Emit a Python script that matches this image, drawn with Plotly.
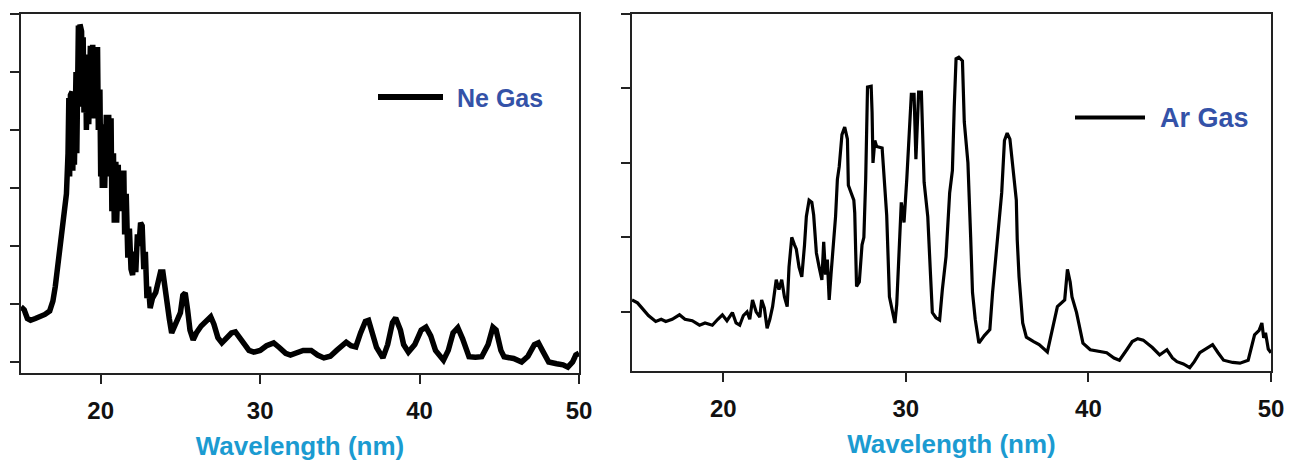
import plotly.graph_objects as go

# ---------------- Data ----------------
ne_wavelength = [
    15.0, 15.2, 15.4, 15.6, 15.9, 16.2, 16.5, 16.8, 17.0, 17.15, 17.3, 17.45, 17.6, 17.75, 17.85,
    17.95, 18.0, 18.05, 18.1, 18.2, 18.25, 18.3, 18.35, 18.45, 18.5, 18.6, 18.65, 18.7, 18.8, 18.85,
    18.9, 18.95, 19.05, 19.1, 19.2, 19.25, 19.35, 19.4, 19.5, 19.55, 19.65, 19.7, 19.8, 19.85, 19.95,
    20.0, 20.05, 20.1, 20.2, 20.25, 20.35, 20.4, 20.5, 20.55, 20.65, 20.7, 20.8, 20.85, 20.95, 21.0,
    21.1, 21.15, 21.25, 21.3, 21.45, 21.5, 21.6, 21.7, 21.8, 21.9, 22.0, 22.1, 22.2, 22.3, 22.4,
    22.5, 22.6, 22.7, 22.8, 22.9, 23.0, 23.1, 23.25, 23.45, 23.6, 23.75, 23.9, 24.0, 24.15, 24.3,
    24.45, 24.6, 24.8, 25.0, 25.15, 25.3, 25.45, 25.6, 25.8, 26.0, 26.3, 26.6, 26.9, 27.1, 27.35,
    27.6, 27.9, 28.2, 28.45, 28.7, 29.0, 29.3, 29.6, 30.0, 30.4, 30.85, 31.2, 31.6, 31.9, 32.3,
    32.7, 33.2, 33.6, 34.0, 34.4, 34.8, 35.1, 35.4, 35.7, 36.0, 36.3, 36.6, 36.8, 37.0, 37.3,
    37.7, 38.0, 38.3, 38.5, 38.8, 39.0, 39.3, 39.7, 40.1, 40.4, 40.7, 41.0, 41.5, 41.8, 42.1,
    42.4, 42.7, 43.1, 43.5, 43.9, 44.3, 44.6, 44.8, 45.1, 45.3, 45.9, 46.4, 46.8, 47.2, 47.45,
    47.7, 48.1, 48.6, 49.0, 49.3, 49.6, 49.8, 50.0,
]
ne_intensity = [
    0.95, 0.9, 0.75, 0.72, 0.75, 0.78, 0.82, 0.88, 1.05, 1.3, 1.65, 1.98, 2.25, 2.55, 2.9,
    3.6, 4.55, 3.2, 4.6, 4.66, 3.3, 4.2, 3.4, 5.0, 3.6, 5.8, 4.5, 5.82, 5.7, 4.4,
    5.6, 4.3, 5.3, 4.0, 5.0, 4.1, 5.45, 4.2, 5.47, 4.3, 5.4, 4.2, 5.43, 4.0, 4.7,
    3.2, 4.1, 3.0, 4.0, 3.0, 4.26, 3.2, 4.26, 3.5, 4.2, 2.6, 3.6, 2.4, 3.45, 2.4,
    3.4, 2.6, 3.2, 2.8, 3.3, 2.2, 2.9, 1.8, 2.3, 1.6, 1.5, 1.9, 1.55, 2.2, 2.0,
    2.4, 2.35, 1.6, 1.9, 1.1, 1.3, 0.93, 1.1, 1.2, 1.4, 1.55, 1.55, 1.3, 1.0, 0.75,
    0.5, 0.6, 0.75, 0.85, 1.15, 1.19, 0.9, 0.55, 0.38, 0.5, 0.62, 0.7, 0.78, 0.65, 0.42,
    0.33, 0.4, 0.5, 0.52, 0.42, 0.3, 0.2, 0.17, 0.2, 0.28, 0.33, 0.25, 0.15, 0.12, 0.17,
    0.2, 0.2, 0.12, 0.07, 0.1, 0.2, 0.28, 0.34, 0.28, 0.26, 0.5, 0.7, 0.72, 0.55, 0.25,
    0.07, 0.3, 0.68, 0.76, 0.55, 0.3, 0.17, 0.3, 0.55, 0.6, 0.45, 0.2, 0.03, 0.2, 0.5,
    0.59, 0.4, 0.09, 0.08, 0.09, 0.3, 0.6, 0.55, 0.2, 0.09, 0.06, 0.0, 0.1, 0.3, 0.33,
    0.2, 0.0, -0.03, -0.05, -0.09, 0.0, 0.12, 0.15,
]

ar_wavelength = [
    15.0, 15.3, 15.55, 15.9, 16.3, 16.6, 16.85, 17.2, 17.6, 17.9, 18.3, 18.7, 19.0, 19.4, 19.7,
    19.95, 20.2, 20.5, 20.7, 20.9, 21.1, 21.3, 21.45, 21.6, 21.8, 22.0, 22.1, 22.25, 22.4, 22.55,
    22.7, 22.9, 23.05, 23.2, 23.35, 23.5, 23.6, 23.75, 23.9, 24.0, 24.15, 24.3, 24.45, 24.55, 24.7,
    24.85, 24.95, 25.1, 25.25, 25.4, 25.5, 25.6, 25.7, 25.8, 25.9, 26.0, 26.15, 26.25, 26.35, 26.5,
    26.65, 26.8, 26.85, 27.0, 27.15, 27.2, 27.3, 27.45, 27.6, 27.7, 27.8, 27.9, 28.1, 28.15, 28.2,
    28.3, 28.4, 28.7, 28.8, 28.95, 29.1, 29.25, 29.4, 29.5, 29.55, 29.65, 29.75, 29.85, 29.9, 30.05,
    30.2, 30.3, 30.45, 30.55, 30.7, 30.85, 31.0, 31.2, 31.35, 31.45, 31.65, 31.85, 32.0, 32.2, 32.4,
    32.55, 32.65, 32.75, 32.9, 33.1, 33.2, 33.4, 33.55, 33.65, 33.8, 34.0, 34.3, 34.6, 34.75, 35.0,
    35.25, 35.4, 35.55, 35.7, 35.85, 36.05, 36.1, 36.2, 36.4, 36.6, 37.0, 37.3, 37.75, 38.0, 38.3,
    38.7, 38.85, 39.0, 39.1, 39.35, 39.7, 40.1, 40.5, 41.0, 41.4, 41.7, 42.1, 42.4, 42.7, 43.0,
    43.5, 43.9, 44.3, 44.6, 44.85, 45.2, 45.55, 45.8, 46.1, 46.5, 46.8, 47.1, 47.4, 47.9, 48.3,
    48.75, 49.1, 49.35, 49.5, 49.6, 49.7, 49.85, 50.0,
]
ar_intensity = [
    1.16, 1.12, 1.05, 0.95, 0.87, 0.9, 0.87, 0.9, 0.96, 0.9, 0.88, 0.82, 0.85, 0.82, 0.9,
    0.96, 0.88, 0.99, 0.85, 0.82, 0.95, 1.0, 0.9, 1.16, 1.0, 0.93, 1.16, 1.05, 0.78, 0.9,
    1.07, 1.43, 1.3, 1.43, 1.2, 1.07, 1.6, 2.0, 1.9, 1.84, 1.6, 1.47, 1.9, 2.28, 2.5,
    2.47, 2.3, 1.79, 1.6, 1.43, 1.94, 1.5, 1.7, 1.16, 1.5, 1.84, 2.28, 2.78, 2.95, 3.38,
    3.48, 3.32, 2.7, 2.6, 2.5, 2.33, 1.34, 1.4, 1.9, 2.0, 2.78, 4.02, 4.03, 3.68, 3.0,
    3.3, 3.22, 3.2, 2.87, 2.3, 1.2, 1.0, 0.85, 1.1, 1.43, 2.0, 2.47, 2.3, 2.2, 2.78,
    3.45, 3.92, 3.92, 3.05, 3.95, 3.95, 2.74, 2.28, 1.5, 0.99, 0.92, 0.89, 1.3, 1.74, 2.6,
    2.9, 3.75, 4.4, 4.42, 4.37, 3.55, 3.0, 2.0, 1.26, 0.9, 0.58, 0.68, 0.76, 1.26, 1.88,
    2.6, 3.3, 3.4, 3.32, 2.95, 2.5, 1.97, 1.47, 0.85, 0.66, 0.6, 0.56, 0.46, 0.72, 1.07,
    1.16, 1.57, 1.4, 1.2, 0.99, 0.58, 0.49, 0.47, 0.45, 0.38, 0.35, 0.49, 0.6, 0.64, 0.62,
    0.52, 0.42, 0.49, 0.38, 0.33, 0.3, 0.25, 0.33, 0.45, 0.52, 0.56, 0.45, 0.35, 0.32, 0.31,
    0.35, 0.69, 0.75, 0.85, 0.65, 0.72, 0.5, 0.45,
]

x_tick_values = [20, 30, 40, 50]
x_tick_labels = ["20", "30", "40", "50"]
ne_y_ticks = [0, 1, 2, 3, 4, 5, 6]
ar_y_ticks = [1, 2, 3, 4, 5]
x_title = "Wavelength (nm)"
ne_label = "Ne Gas"
ar_label = "Ar Gas"

# ---------------- Figure ----------------
W, H = 1290, 463
def px(x):
    return x / W
def py(y):
    return 1 - y / H

fig = go.Figure()
fig.add_trace(go.Scatter(x=ne_wavelength, y=ne_intensity, mode="lines",
                         line=dict(color="#000000", width=5.5), name=ne_label,
                         xaxis="x", yaxis="y", showlegend=False))
fig.add_trace(go.Scatter(x=ar_wavelength, y=ar_intensity, mode="lines",
                         line=dict(color="#000000", width=3.2), name=ar_label,
                         xaxis="x2", yaxis="y2", showlegend=False))

FONT = "Liberation Sans, Arial, sans-serif"
tickfont = dict(family=FONT, size=24, color="#111111", weight="bold")
titlefont = dict(family=FONT, size=26, color="#1b9bd1", weight="bold")

xcommon = dict(range=[15, 50], tickvals=x_tick_values, ticktext=x_tick_labels,
               ticks="outside", ticklen=9, tickwidth=2, tickcolor="#222222",
               showline=True, linewidth=2, linecolor="#222222", mirror=True,
               showgrid=False, zeroline=False, tickfont=tickfont,
               ticklabelstandoff=6, automargin=False,
               title=dict(text=x_title, font=titlefont, standoff=14))
ycommon = dict(ticks="outside", ticklen=9, tickwidth=2, tickcolor="#222222",
               showline=True, linewidth=2, linecolor="#222222", mirror=True,
               showgrid=False, zeroline=False, showticklabels=False, automargin=False)

fig.update_layout(
    width=W, height=H,
    margin=dict(l=0, r=0, t=0, b=0, autoexpand=False),
    paper_bgcolor="white", plot_bgcolor="white",
    showlegend=False,
    xaxis=dict(domain=[px(21), px(579)], anchor="y", **xcommon),
    yaxis=dict(domain=[py(373), py(14)], anchor="x", range=[-0.19, 6.0],
               tickvals=ne_y_ticks, **ycommon),
    xaxis2=dict(domain=[px(632), px(1271)], anchor="y2", **xcommon),
    yaxis2=dict(domain=[py(371), py(14)], anchor="x2", range=[0.205, 5.0],
                tickvals=ar_y_ticks, **ycommon),
)

# legend-style keys (sample line + label)
fig.add_shape(type="line", xref="paper", yref="paper",
              x0=px(378), x1=px(443), y0=py(97), y1=py(97),
              line=dict(color="#000000", width=6))
fig.add_annotation(xref="paper", yref="paper", x=px(455), y=py(98),
                   xanchor="left", yanchor="middle", showarrow=False,
                   text=ne_label, font=dict(family=FONT, size=25, color="#3452a8", weight="bold"))
fig.add_shape(type="line", xref="paper", yref="paper",
              x0=px(1075), x1=px(1145), y0=py(117.5), y1=py(117.5),
              line=dict(color="#000000", width=4))
fig.add_annotation(xref="paper", yref="paper", x=px(1158), y=py(118),
                   xanchor="left", yanchor="middle", showarrow=False,
                   text=ar_label, font=dict(family=FONT, size=27, color="#3452a8", weight="bold"))

fig.write_html("out.html")
